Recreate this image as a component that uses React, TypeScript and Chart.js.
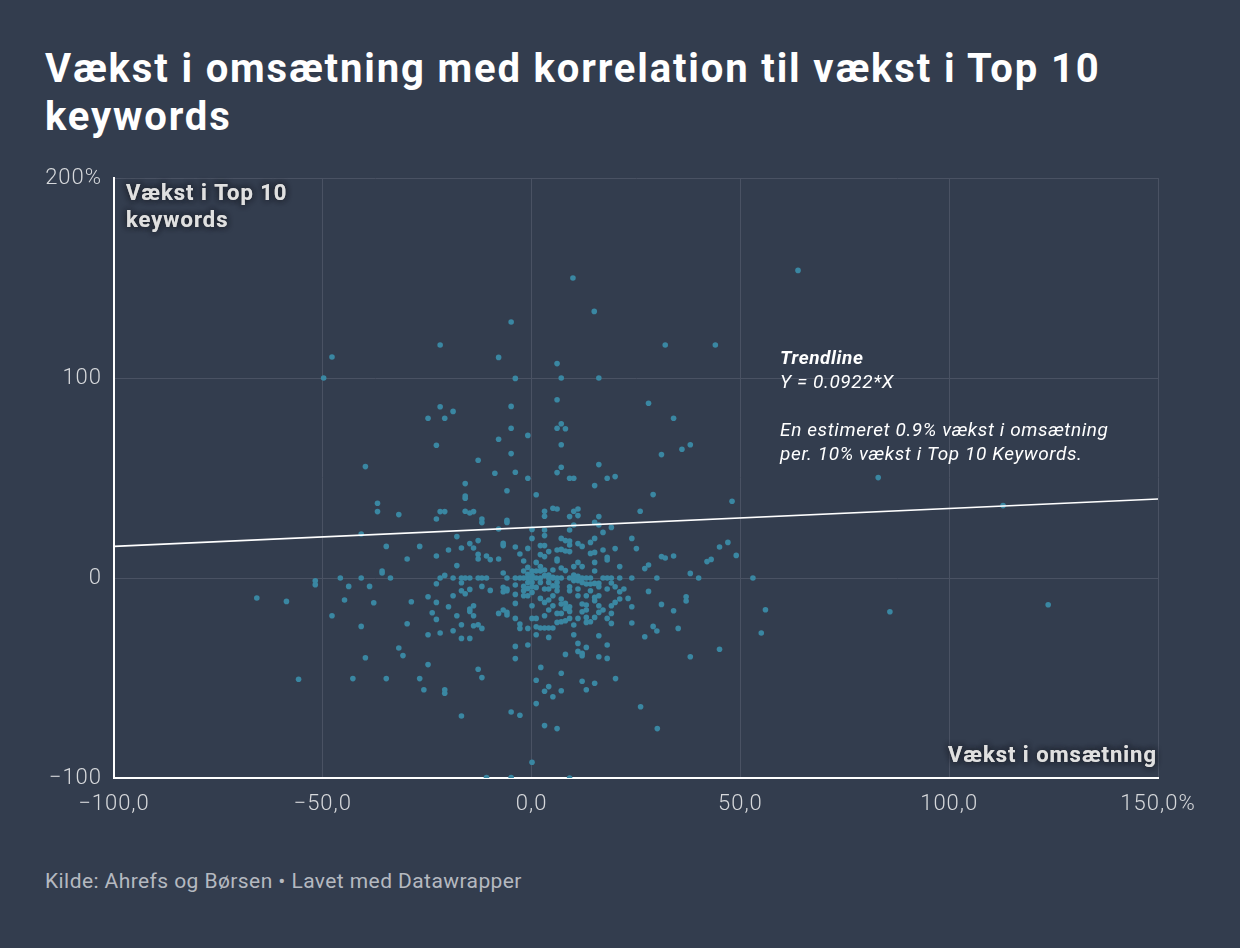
import React, { useEffect, useRef } from "react";
import { Chart, registerables } from "chart.js";

Chart.register(...registerables);

// ---------- DATA ----------
const titleLine1 = "Vækst i omsætning med korrelation til vækst i Top 10";
const titleLine2 = "keywords";
const footerText = "Kilde: Ahrefs og Børsen • Lavet med Datawrapper";
const yAxisTitle = ["Vækst i Top 10", "keywords"];
const xAxisTitle = "Vækst i omsætning";
const trendNoteLines = ["Trendline", "Y = 0.0922*X", "", "En estimeret 0.9% vækst i omsætning", "per. 10% vækst i Top 10 Keywords."];

const xTickValues = [-100, -50, 0, 50, 100, 150];
const xTickLabels = ["−100,0", "−50,0", "0,0", "50,0", "100,0", "150,0%"];
const yTickValues = [-100, 0, 100, 200];
const yTickLabels = ["−100", "0", "100", "200%"];

// trendline endpoints [revenue growth, keyword growth]
const trendX = [-100, 150];
const trendY = [15.8, 39.5];
// anchor of trend note (data units)
const trendNoteAnchor = [59.5, 106.8];

// points: [vækst i omsætning, vækst i Top 10 keywords]
const outliers: number[][] = [
  [-49.8, 100], [-47.8, 110.5], [9.9, 150], [15, 133.3], [-4.9, 128], [63.8, 153.8],
  [-21.9, 116.5], [32, 116.5], [44, 116.5], [83, 50.2], [112.9, 36.2], [85.8, -16.9], [123.7, -13.4],
];

const upperLeft: number[][] = [
  [-7.9, 110.3], [-3.9, 99.8], [-21.9, 85.6], [-18.8, 83.3], [-24.8, 79.9], [-20.8, 79.9], [-4.9, 85.8],
  [-4.9, 74.9], [-7.9, 69.4], [-22.8, 66.4], [-4.9, 62.2], [-12.8, 58.9], [-39.8, 55.7], [-8.8, 52.4],
  [-3.9, 52.9], [-15.9, 47.2], [-5.9, 43.6], [-15.9, 41], [-15.9, 39.9], [-36.9, 37.4], [-36.9, 33.2],
  [-31.8, 31.7], [-21.9, 33.2], [-20.8, 33.2], [-15.9, 33.4], [-14.8, 32.5], [-13.9, 33.2], [-22.8, 29.5],
  [-11.9, 29.5], [-5.9, 28.8],
];

const upperRight: number[][] = [
  [6.1, 107.2], [7.1, 100], [16.1, 100], [6.1, 89.1], [28, 87.4], [34, 79.9], [7.1, 77.1], [6.1, 74.9],
  [8.1, 74.6], [-0.9, 71.3], [7.1, 66.6], [38, 66.6], [36, 64.4], [31.1, 61.7], [16.1, 56.7], [7.1, 55.4],
  [6.1, 52.7], [-0.9, 49.9], [9.1, 49.9], [10.1, 49.9], [18.1, 49.9], [20, 50.7], [15.1, 46.2], [1.1, 41.6],
  [29.1, 41.7], [48, 38.4], [3.1, 33.4], [3.1, 30.9], [5.1, 34.9], [6.1, 34.5], [10.1, 33.4], [11.1, 34.5],
  [9.1, 30.7], [11.1, 31.2], [16.1, 30.7], [26, 33.4],
];

const lowerLeft: number[][] = [
  [-40.8, 22], [-34.8, 15.8], [-26.8, 15.8], [-17.9, 20.7], [-14.8, 17.2], [-13.9, 15], [-12.8, 18.7],
  [-16.8, 15], [-19.9, 14], [-22.8, 11], [-29.8, 9.5], [-12.8, 11.8], [-12.8, 9.5], [-10.8, 11], [-9.9, 9.2],
  [-7.9, 9.5], [-7.9, 24.5], [-5.9, 27.8], [-11.9, 27.7], [-6.8, 17.3], [-6.8, 16.2], [-3.9, 15.5], [-2.8, 12],
  [-17.9, 6.2], [-35.8, 3.5], [-35.8, 2.5], [-51.8, -1.4], [-51.8, -3.4], [-45.8, 0], [-40.8, 0], [-33.8, 0],
  [-43.8, -4.2], [-38.8, -4.2], [-21.9, 0], [-20.8, 1.3], [-22.8, -2.9], [-18.8, 0], [-16.8, 0], [-15.9, 0],
  [-14.8, 0], [-16.8, -2.4], [-12.8, 0], [-11.9, 0], [-10.8, 0], [-6.8, 2.5], [-5.9, 0], [-3.9, 0], [-2.8, 0],
  [-11.9, -4.2], [-9.9, -6.2], [-16.8, -6.4], [-15.9, -7.9], [-14.8, -5.7], [-18.8, -8.9], [-24.8, -9.4],
  [-22.8, -12.2], [-19.9, -14.4], [-28.8, -11.9], [-37.8, -12.4], [-44.8, -11], [-58.7, -11.7], [-65.8, -10],
  [-6.8, -4.7], [-6.8, -6.9], [-5.9, -5.5], [-5.9, -6.4], [-3.9, -3.5], [-3.9, -8.2], [-14.8, -15.5],
  [-14.8, -16.7], [-13.9, -13.9], [-13.9, -18.9], [-23.8, -17.4], [-22.8, -20.7], [-17.9, -18.9],
  [-16.8, -23.4], [-13.9, -23.9], [-12.8, -23.4], [-11.9, -25.2], [-18.8, -26.4], [-21.9, -27.5],
  [-24.8, -28.4], [-16.8, -30.2], [-14.8, -30.2], [-6.8, -16], [-5.9, -17.2], [-7.9, -17.7], [-5.9, -18.5],
  [-3.9, -12.7], [-3.9, -20.2], [-2.8, -23], [-2.8, -25.2], [-29.8, -22.9], [-47.8, -18.9], [-40.8, -24.2],
  [-31.8, -35], [-30.8, -38.8], [-39.8, -39.9], [-24.8, -43.3], [-12.8, -45.6], [-11.9, -49.8], [-3.9, -34.2],
  [-3.9, -40.3], [-55.8, -50.6], [-42.8, -50.3], [-34.8, -50.3], [-26.8, -50.3], [-25.8, -55.9],
  [-20.8, -55.9], [-20.8, -57.6], [-16.8, -69], [-4.9, -67], [-2.8, -68.6], [-10.8, -99.8], [-4.9, -99.8],
];

const lowerRight: number[][] = [
  [31.1, 10.7], [32, 10], [34, 11], [28, 6.5], [27.1, 4.7], [38, 2.3], [40, 0], [30, 0], [42, 8.2], [43, 9.3],
  [45, 15.5], [47, 17.8], [49, 11.3], [53, 0], [56, -15.9], [55, -27.5], [45, -35.6], [38, -39.4], [28, -6.7],
  [31.1, -13.2], [34, -16.4], [37, -9.4], [37, -11.5], [35.1, -25.2], [29.1, -24.2], [30, -26.5], [27.1, -29.4],
  [18.1, -33.5], [13.1, -34.7], [11.1, -32.7], [11.1, -36.7], [12.1, -37.7], [12.1, -38.9], [16.1, -39.4],
  [18.1, -40.2], [8.1, -38.2], [-0.9, -33.5], [2.2, -44.7], [7.1, -47.6], [1.1, -51.1], [4.1, -54.3],
  [3.1, -56.6], [5.1, -59.4], [7.1, -56.4], [12.1, -51.6], [13.1, -55.9], [15.1, -52.6], [20.1, -50.3],
  [1.1, -62.8], [26.1, -64.4], [3.1, -73.8], [6.1, -75.3], [30.1, -75.3], [0.1, -92.1], [9.1, -100],
];

const core: number[][] = [
  [0.1, 24.3], [3.1, 24], [3.1, 21.2], [9.1, 24], [10.1, 26.5], [15.1, 27.8], [16.1, 26.5], [19.1, 25.3],
  [17.1, 22.8], [24, 19.8], [25.1, 14.7], [20, 14.7], [15.1, 19.8], [14.1, 17.8], [17.1, 14], [15.1, 12.8],
  [14.1, 12.3], [18.1, 10.3], [18.1, 9], [21.1, 5.7], [15.1, 7.8], [15.1, 3.5], [7.1, 19.8], [8.1, 18.7],
  [9.1, 18.5], [9.1, 16.5], [11.1, 17.2], [12.1, 15.8], [7.1, 14.3], [8.1, 13.5], [9.1, 13.2], [6.1, 14],
  [2.1, 16.2], [3.1, 16.2], [4.1, 13.2], [2.1, 11.7], [3.1, 10.7], [-0.9, 14.8], [0.1, 19.8], [6.1, 9.5],
  [6.1, 8.5], [7.1, 5], [8.1, 3.7], [10.1, 5.7], [11.1, 7.8], [12.1, 5.7], [-1.9, 8.5], [-0.9, 5.3],
  [1.1, 7.8], [2.1, 5.7], [1.1, 3.5], [2.1, 3.5], [0.1, 3.5], [-0.9, 1.8], [0.1, 1.2], [-1.9, 3.5],
  [3.1, 4], [5.1, 4],
  [-1.9, 0], [-0.9, 0], [0.1, 0], [1.1, 0], [2.1, 0], [4.1, 0], [5.1, 0], [6.1, 0], [7.1, 0], [9.1, 0],
  [10.1, 0], [11.1, 0], [12.1, 0], [13.1, 0], [14.1, 0], [17.1, 0], [18.1, 0], [19.1, 0], [21.1, 0], [24, 0],
  [3.1, 1.2], [4.1, 1.5], [5.1, 0.3], [10.1, 1.5], [11.1, 0.8], [10.1, -1.3], [11.1, -1.3], [0.1, -2.2],
  [2.1, -2.2], [0.1, -4.4], [1.1, -4.7], [-0.9, -2.2], [-1.9, -4.2], [-0.9, -5.2], [-1.9, -6.4], [4.1, -2.2],
  [5.1, -3.9], [6.1, -2.2], [4.1, -5.5], [3.1, -5.5], [6.1, -4.4], [6.1, -6.4], [9.1, -4.4], [9.1, -6.4],
  [11.1, -5.5], [13.1, -3], [14.1, -3], [12.1, -2.2], [15.1, -2.7], [16.1, -2.7], [11.1, -8.9], [14.1, -6.4],
  [15.1, -9.7], [16.1, -8.9], [13.1, -8.9], [13.1, -13.5], [12.1, -13], [13.1, -16], [12.1, -16.9],
  [7.1, -10.5], [8.1, -12.7], [7.1, -13], [9.1, -14.4], [8.1, -15.2], [9.1, -16.7], [5.1, -8.9], [4.1, -11],
  [5.1, -13.9], [3.1, -12.2], [2.1, -10.2], [0.1, -7.2], [0.1, -13.9], [-1.9, -8.9], [-0.9, -8.9], [4.1, -16],
  [6.1, -17.7], [7.1, -17.7], [3.1, -18.9], [1.1, -20.2], [0.1, -20.2], [7.1, -21.9], [6.1, -22.2],
  [8.1, -21.4], [10.1, -23.5], [9.1, -20.2], [11.1, -20.2], [1.1, -24.4], [2.1, -25], [3.1, -25], [4.1, -25],
  [5.1, -25], [-0.9, -25.2], [1.1, -28.4], [4.1, -29.7], [10.1, -28.4], [15.1, -11.4], [16.1, -13.9],
  [13.1, -19.7], [14.1, -21.9], [13.1, -22.2], [15.1, -19.7], [16.1, -17.2], [17.1, -16], [19.1, -17.7],
  [19.1, -13.9], [16.1, -28.9], [19.1, -22.7], [20, -12.2], [21.1, -10.5], [23.1, -10.2], [24, -14.4],
  [24, -22.5], [21.1, -6.9], [22.1, -5.5], [18.1, -5.5], [16.1, -4.4], [19.1, -2.5], [20, -4.4], [18.1, -20.2],
];

// ---------- STYLE ----------
const BG = "#333d4e";
const DOT = "#3a87a2";
const GRID = "#4a5263";
const TICK = "#d6d8db";
const FONT = 'Roboto, "Noto Sans", sans-serif';

const spacingPlugin = {
  id: "tickSpacing",
  beforeDraw(chart: any) {
    chart.ctx.letterSpacing = "1px";
  },
};

const annotationPlugin = {
  id: "annotations",
  afterDatasetsDraw(chart: any) {
    const { ctx, chartArea, scales } = chart;
    const xs = scales.x;
    const ys = scales.y;
    ctx.save();
    // axis titles with halo
    ctx.letterSpacing = "1px";
    ctx.font = `700 22px ${FONT}`;
    ctx.fillStyle = "#e0e0e0";
    ctx.shadowColor = "rgba(28,33,42,0.95)";
    ctx.shadowBlur = 6;
    ctx.textBaseline = "alphabetic";
    ctx.textAlign = "left";
    yAxisTitle.forEach((t, i) => {
      for (let k = 0; k < 2; k++) ctx.fillText(t, chartArea.left + 12, chartArea.top + 22 + i * 27);
    });
    ctx.textAlign = "right";
    for (let k = 0; k < 2; k++) ctx.fillText(xAxisTitle, chartArea.right - 1, chartArea.bottom - 16);
    ctx.shadowBlur = 0;
    ctx.shadowColor = "transparent";

    // trend note
    const ax = xs.getPixelForValue(trendNoteAnchor[0]);
    const ay = ys.getPixelForValue(trendNoteAnchor[1]);
    ctx.textAlign = "left";
    ctx.fillStyle = "#ffffff";
    ctx.letterSpacing = "0.6px";
    trendNoteLines.forEach((t, i) => {
      ctx.font = i === 0 ? `italic 700 19px ${FONT}` : `italic 400 19px ${FONT}`;
      if (t) ctx.fillText(t, ax, ay + i * 24);
    });
    ctx.restore();
  },
};

export default function App() {
  const ref = useRef<HTMLCanvasElement | null>(null);

  useEffect(() => {
    document.body.style.margin = "0";
    document.body.style.background = BG;
    const canvas = ref.current;
    if (!canvas) return;
    const toPts = (arr: number[][]) => arr.map(([x, y]) => ({ x, y }));
    const points = [
      ...toPts(outliers),
      ...toPts(upperLeft),
      ...toPts(upperRight),
      ...toPts(lowerLeft),
      ...toPts(lowerRight),
      ...toPts(core),
    ];
    const trend = trendX.map((x, i) => ({ x, y: trendY[i] }));

    const chart = new Chart(canvas, {
      type: "scatter",
      data: {
        datasets: [
          {
            type: "line",
            data: trend,
            borderColor: "#ffffff",
            borderWidth: 1.6,
            pointRadius: 0,
            fill: false,
            tension: 0,
            order: 0,
          } as any,
          {
            type: "scatter",
            data: points,
            backgroundColor: DOT,
            borderWidth: 0,
            pointRadius: 2.8,
            pointHoverRadius: 2.8,
            order: 1,
          } as any,
        ],
      },
      options: {
        animation: false,
        responsive: false,
        maintainAspectRatio: false,
        events: [],
        layout: { padding: { left: 0, right: 82, top: 28, bottom: 0 } },
        plugins: { legend: { display: false }, tooltip: { enabled: false } },
        scales: {
          x: {
            type: "linear",
            min: -100,
            max: 150,
            afterBuildTicks: (scale: any) => {
              scale.ticks = xTickValues.map((v) => ({ value: v }));
            },
            afterFit: (scale: any) => {
              scale.height = 72;
            },
            ticks: {
              color: TICK,
              font: { family: FONT, size: 22, weight: "300" as any },
              padding: 13,
              maxRotation: 0,
              autoSkip: false,
              callback: (v: any) => xTickLabels[xTickValues.indexOf(Number(v))] ?? "",
            },
            grid: { color: GRID, lineWidth: 1, drawTicks: false },
            border: { color: "#ffffff", width: 2 },
          },
          y: {
            type: "linear",
            min: -100,
            max: 200,
            afterBuildTicks: (scale: any) => {
              scale.ticks = yTickValues.map((v) => ({ value: v }));
            },
            afterFit: (scale: any) => {
              scale.width = 114;
            },
            ticks: {
              color: TICK,
              font: { family: FONT, size: 22, weight: "300" as any },
              padding: 12,
              autoSkip: false,
              callback: (v: any) => yTickLabels[yTickValues.indexOf(Number(v))] ?? "",
            },
            grid: { color: GRID, lineWidth: 1, drawTicks: false },
            border: { color: "#ffffff", width: 2 },
          },
        },
      },
      plugins: [spacingPlugin, annotationPlugin],
    } as any);
    return () => chart.destroy();
  }, []);

  return (
    <div
      style={{
        position: "fixed",
        left: 0,
        top: 0,
        width: 1240,
        height: 948,
        background: BG,
        overflow: "hidden",
        fontFamily: FONT,
      }}
    >
      <div
        style={{
          position: "absolute",
          left: 45,
          top: 45,
          fontSize: 40,
          fontWeight: 700,
          letterSpacing: "1.85px",
          lineHeight: "47.6px",
          color: "#ffffff",
          whiteSpace: "nowrap",
        }}
      >
        {titleLine1}
        <br />
        {titleLine2}
      </div>
      <canvas
        ref={ref}
        width={1240}
        height={700}
        style={{ position: "absolute", left: 0, top: 150, width: 1240, height: 700 }}
      />
      <div
        style={{
          position: "absolute",
          left: 45,
          top: 869,
          fontSize: 21,
          fontWeight: 400,
          letterSpacing: "0.42px",
          lineHeight: "24px",
          color: "#b5b9c0",
          whiteSpace: "nowrap",
        }}
      >
        {footerText}
      </div>
    </div>
  );
}
